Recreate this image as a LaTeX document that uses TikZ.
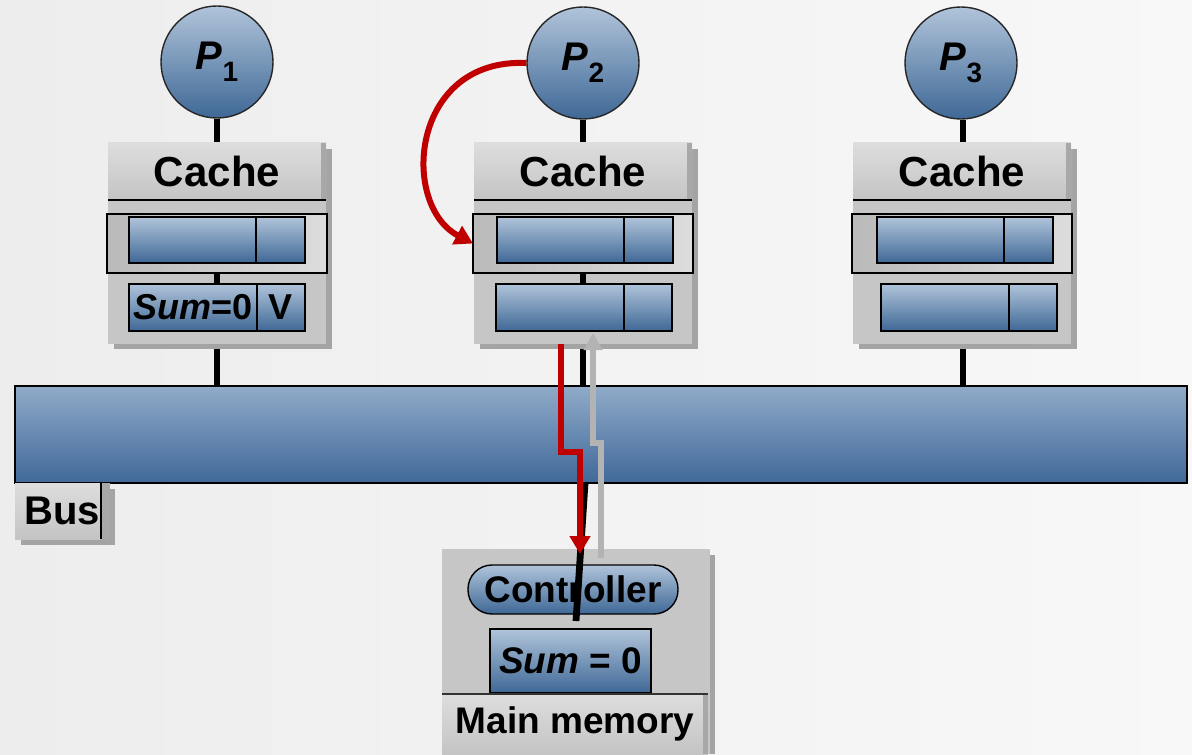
\documentclass[tikz,border=0pt]{standalone}
\usepackage{fontspec}
\setmainfont{Liberation Sans}
\usetikzlibrary{arrows.meta}
\definecolor{bgL}{HTML}{EDEDED}
\definecolor{bgR}{HTML}{F8F8F8}
\definecolor{bluetop}{HTML}{B0C4DA}
\definecolor{bluebot}{HTML}{3F6896}
\definecolor{bustop}{HTML}{90ABC8}
\definecolor{busbot}{HTML}{40689A}
\definecolor{boxgray}{HTML}{C6C6C6}
\definecolor{headtop}{HTML}{DDDDDD}
\definecolor{headbot}{HTML}{C4C4C4}
\definecolor{bevel}{HTML}{A8A8A8}
\definecolor{shadowgray}{HTML}{A4A4A4}
\definecolor{flowred}{HTML}{C00000}
\definecolor{flowgray}{HTML}{B3B3B3}
\tikzset{
  sz/.style 2 args={minimum width=(#1)*0.5pt, minimum height=(#2)*0.5pt, inner sep=0pt, outer sep=0pt},
  proc/.style={circle, draw=black!85, line width=0.7pt, top color=bluetop, bottom color=bluebot,
    minimum size=56pt, inner sep=0pt, font=\fontsize{20pt}{20pt}\selectfont\bfseries},
  body/.style={rectangle, fill=boxgray},
  shadowbox/.style={fill=shadowgray},
  header/.style={rectangle, top color=headtop, bottom color=headbot,
    font=\fontsize{21pt}{21pt}\selectfont\bfseries},
  band/.style={rectangle, draw=black, line width=0.7pt, left color=bevel!80, right color=boxgray!60},
  cell/.style={rectangle, draw=black, line width=0.7pt, top color=bluetop, bottom color=bluebot,
    font=\fontsize{18pt}{18pt}\selectfont\bfseries},
  wire/.style={line width=3.4pt, black},
  redflow/.style={line width=3pt, flowred, line join=miter},
  grayflow/.style={line width=3pt, flowgray, line join=miter},
  labeltext/.style={font=\fontsize{18.5pt}{18.5pt}\selectfont\bfseries},
}
\begin{document}
\begin{tikzpicture}[x=0.5pt, y=-0.5pt]
  % page
  \useasboundingbox (0,0) rectangle (1192,754);
  \shade[left color=bgL, right color=bgR] (0,0) rectangle (1192,754);

  % processors
  \node[proc] (p1) at (217,62) {\textit{P}\raisebox{-0.3em}{\fontsize{14pt}{14pt}\selectfont 1}};
  \node[proc] (p2) at (583,63) {\textit{P}\raisebox{-0.3em}{\fontsize{14pt}{14pt}\selectfont 2}};
  \node[proc] (p3) at (961,63) {\textit{P}\raisebox{-0.3em}{\fontsize{14pt}{14pt}\selectfont 3}};

  % bus (placed first so the wires can reach it)
  \node[sz={1172}{97}, anchor=north west, draw=black, line width=0.7pt,
        top color=bustop, bottom color=busbot] (bus) at (15,386) {};

  % wires from each processor down to the bus
  \draw[wire] (p1.south) -- (p1.south |- bus.north);
  \draw[wire] (p2.south) -- (p2.south |- bus.north);
  \draw[wire] ([xshift=1pt]p3.south) -- ([xshift=1pt]p3.south |- bus.north);

  % caches
  \foreach \n/\cx/\ax/\ad/\bx/\bd in {1/108/129/256/129/257, 2/474/497/624/496/624, 3/853/877/1004/881/1009}{
    \fill[shadowbox] (\cx+6,149) rectangle (\cx+224,349);
    \node[body, sz={218}{201}, anchor=north west] (cache\n) at (\cx,143) {};
    \node[header, sz={218}{57}, anchor=north west] (head\n) at (\cx,143) {\raisebox{-1pt}{Cache}};
    \fill[bevel] (\cx+213,143) rectangle (\cx+218,200);
    \draw[black, line width=0.8pt] (head\n.south west) -- (head\n.south east);
    \node[band, sz={220}{59}, anchor=north west] (band\n) at (\cx-1,214) {};
    \node[cell, sz={\ad-\ax}{46}, anchor=north west] (la\n) at (\ax,217) {};
    \node[cell, sz={49}{46}, anchor=north west] (ra\n) at (\ad,217) {};
    \node[cell, sz={\bd-\bx}{47}, anchor=north west] (lb\n) at (\bx,284) {};
    \node[cell, sz={48}{47}, anchor=north west] (rb\n) at (\bd,284) {};
  }
  \node[font=\fontsize{18pt}{18pt}\selectfont\bfseries] (sum1) at (lb1.center) {\textit{Sum}=0};
  \node[font=\fontsize{18pt}{18pt}\selectfont\bfseries] (v1) at (rb1.center) {V};

  % wire segments visible between the cache rows
  \draw[wire] (band1.south -| p1.south) -- (lb1.north -| p1.south);
  \draw[wire] (band2.south -| p2.south) -- (lb2.north -| p2.south);

  % bus label
  \fill[shadowbox] (21,489) rectangle (115,545);
  \node[header, sz={86}{56}, anchor=north west, font=\fontsize{20pt}{20pt}\selectfont\bfseries] (buslbl) at (15,483) {\hspace{4pt}\raisebox{-3pt}{Bus}};
  \fill[bevel] (101,483) rectangle (110,539);
  \draw[black, line width=0.7pt] (buslbl.north east) -- (buslbl.south east);

  % main memory
  \fill[shadowbox] (447,555) rectangle (715,754);
  \node[body, sz={268}{205}, anchor=north west] (mem) at (442,549) {};
  \node[rectangle, rounded corners=12pt, sz={210}{49}, draw=black, line width=0.7pt,
        top color=bluetop, bottom color=bluebot, labeltext] (ctrl) at (573,589.5) {Controller};
  \node[cell, sz={161}{64}, labeltext] (msum) at (570.5,661) {\textit{Sum} = 0};
  \node[header, sz={266}{60}, anchor=north west, labeltext] (memlbl) at (442,694) {\raisebox{-2pt}{Main memory}};
  \fill[bevel] (703,694) rectangle (708,754);
  \draw[black!80, line width=0.8pt] (memlbl.north west) -- (memlbl.north east);

  % bus-to-memory wire
  \coordinate (tap) at (585,483);
  \coordinate (memin) at (576,621);
  \draw[wire] (tap) -- (memin);

  % write-back path (red) and read path (gray)
  \coordinate (r0) at (561,344);
  \coordinate (r1) at (561,452);
  \coordinate (r2) at (580,452);
  \coordinate (r3) at (580,554);
  \draw[redflow, -{Triangle[width=10pt, length=9pt]}] (r0) -- (r1) -- (r2) -- (r3);
  \coordinate (g0) at (601,558);
  \coordinate (g1) at (601,443);
  \coordinate (g2) at (593,443);
  \coordinate (g3) at (593,333);
  \draw[grayflow, -{Triangle[width=9pt, length=8.5pt]}] (g0) -- (g1) -- (g2) -- (g3);

  % processor store into its cache
  \draw[redflow, -{Triangle[width=10pt, length=9pt]}]
    (p2.west) .. controls (410,58) and (400,205) .. (band2.west);
\end{tikzpicture}
\end{document}
